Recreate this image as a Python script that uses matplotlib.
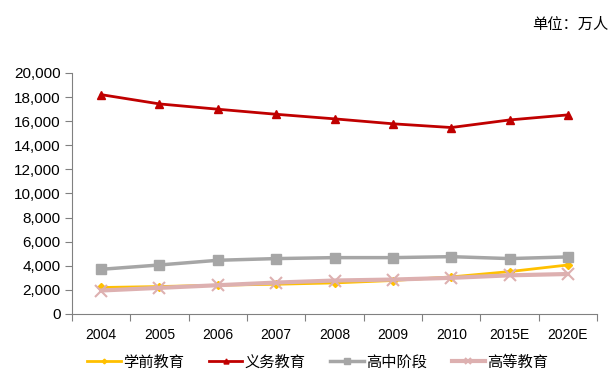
import matplotlib.pyplot as plt
import numpy as np

plt.rcParams['font.family'] = ['Liberation Sans', 'Noto Sans CJK SC', 'DejaVu Sans']

years = ['2004', '2005', '2006', '2007', '2008', '2009', '2010', '2015E', '2020E']
preschool = [2190, 2270, 2380, 2460, 2570, 2770, 3070, 3510, 4060]
compulsory = [18200, 17430, 16990, 16570, 16190, 15780, 15470, 16100, 16520]
high_school = [3700, 4060, 4450, 4590, 4670, 4670, 4750, 4590, 4730]
higher = [1940, 2160, 2380, 2600, 2770, 2850, 2990, 3200, 3310]
names = ['学前教育', '义务教育', '高中阶段', '高等教育']

fig = plt.figure(figsize=(6.15, 3.8), dpi=100)
ax = fig.add_axes([0.117, 0.174, 0.854, 0.634])

x = np.arange(len(years))
ax.plot(x, preschool, color='#FFC000', lw=2, marker='D', ms=4, label=names[0])
ax.plot(x, compulsory, color='#C00000', lw=2, marker='^', ms=6, label=names[1])
ax.plot(x, high_school, color='#A6A6A6', lw=2.5, marker='s', ms=7, label=names[2])
ax.plot(x, higher, color='#DDB0B0', lw=3, marker='x', ms=8, mew=1.5, label=names[3])

ax.set_xlim(-0.5, len(years) - 0.5)
ax.set_ylim(0, 20000)
ax.set_yticks(np.arange(0, 20001, 2000))
ax.set_yticklabels([f'{v:,}' for v in range(0, 20001, 2000)])

ax.set_xticks(np.arange(-0.5, len(years), 1))
ax.set_xticklabels([])
ax.set_xticks(x, minor=True)
ax.set_xticklabels(years, minor=True)
ax.tick_params(axis='x', which='minor', length=0, pad=10)
ax.tick_params(axis='x', which='major', length=5, color='#808080')
ax.tick_params(axis='y', length=5, color='#808080', pad=3)
ax.tick_params(labelsize=11)

for s in ['top', 'right']:
    ax.spines[s].set_visible(False)
for s in ['left', 'bottom']:
    ax.spines[s].set_color('#808080')

fig.text(0.99, 0.935, '单位：万人', ha='right', va='center', fontsize=11,
         family=['Noto Sans CJK SC'])

fig.legend(loc='center', bbox_to_anchor=(0.517, 0.047), ncol=4, frameon=False,
           handlelength=2.2, columnspacing=1.6, handletextpad=0.15,
           markerscale=0.6, prop={'family': ['Noto Sans CJK SC'], 'size': 11})

fig.savefig('out.png', dpi=100)
